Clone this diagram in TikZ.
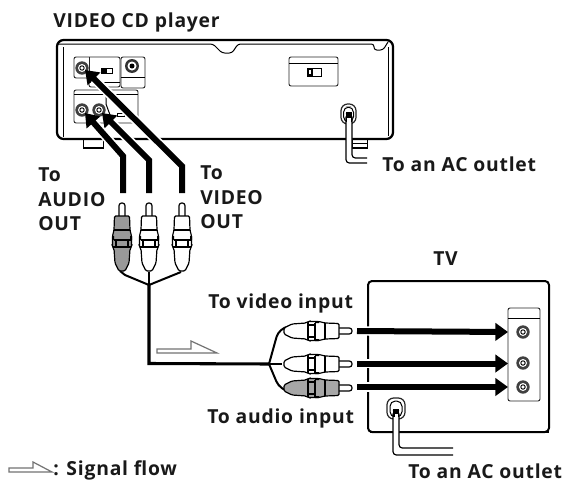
\documentclass[tikz,border=0pt]{standalone}
\usepackage{fontspec}
\setmainfont{Open Sans}
\newfontfamily\lblfont[LetterSpace=4]{Open Sans}
\usetikzlibrary{arrows.meta}
\tikzset{
 x=0.75pt,y=-0.75pt,
 lbl/.style={font=\fontsize{14.5pt}{18.6pt}\lblfont\bfseries,inner sep=0pt,anchor=base west,text=black!90},
 lblm/.style={lbl,align=left,anchor=north west},
 thin line/.style={draw=black,line width=0.75pt},
 panel/.style={draw=black!85,line width=0.7pt,rounded corners=1.5pt,fill=white},
 sig/.style={draw=black,line width=4.5pt,-{Triangle[length=9.5pt,width=13pt]},line join=miter,
   preaction={draw=white,line width=7pt,-,shorten >=9pt}},
 wire/.style={draw=black,line width=1.5pt,line join=round},
 mainwire/.style={draw=black,line width=2.3pt,line join=miter},
 flow/.style={draw=black!55,line width=0.9pt,fill=white,line join=miter},
 pics/jack/.style={code={
  \fill[black!75] (0,0) circle (6.7);
  \fill[white] (0,0) circle (4);
  \draw[black,line width=0.7pt] (0,0) circle (2.2);
 }},
 pics/rca/.style={code={
  \draw[black,line width=0.9pt,fill=white,rounded corners=2pt] (-3,13)--(-3,0)--(3,0)--(3,13);
  \draw[black,line width=0.9pt,fill=#1,rounded corners=1pt]
   (-7.5,13)--(7.5,13)--(8,27)--(9.5,33)--(9.5,44)--(8,46)--(7,60)--(3,68)--(-3,68)--(-7,60)--(-8,46)--(-9.5,44)--(-9.5,33)--(-8,27)--cycle;
  \draw[black,line width=0.8pt] (-8,27)--(8,27) (-8.5,37)--(8.5,37) (-9,44)--(9,44);
  \draw[black,line width=0.8pt] (-6,37)--(-6,44) (6,37)--(6,44);
  \fill[black] (-10,33) rectangle (-8,37) (8,33) rectangle (10,37);
 }},
}
\begin{document}
\begin{tikzpicture}
\useasboundingbox (0,0) rectangle (568,482);
\fill[white] (0,0) rectangle (568,482);
% --- player ---
\draw[black,line width=1.7pt,rounded corners=5pt] (57,139) rectangle (393,40);
\draw[thin line,rounded corners=2pt] (58,44)--(213,44)--(222,53)--(232,53)--(238,44)--(374,44)--(374,50)--(383,50)--(388,42);
\draw[thin line] (63,47)--(63,137) (388,47)--(388,136);
\draw[thin line] (83,139)--(83,148)--(103,148)--(103,139);
\draw[thin line] (352,139)--(352,148)--(367,148)--(367,139);
\draw[thin line] (352,143)--(367,143);
\fill[black] (83,146.5) rectangle (103,148);
\fill[black] (352,146.5) rectangle (367,148);
% panels
\draw[panel] (74,78)--(74,57)--(120,57)--(120,87)--(89,87)--(89,78)--cycle;
\draw[panel,fill=none] (89,57)--(89,78);
\draw[thin line] (89,82)--(120,82);
\draw[panel] (121,57) rectangle (145,88);
\draw[thin line] (121,77)--(145,77);
\draw[panel] (74,90) rectangle (138,123);
\draw[thin line] (74,94)--(138,94);
\draw[thin line] (106,95)--(106,104)--(113,123);
\draw[thin line] (117,113) rectangle (124,116);
\fill[black] (102,68) rectangle (107,73);
\draw[thin line] (101,68) rectangle (112,73);
\fill[black!80] (132,66) circle (7);
\fill[white] (132,66) circle (4.5);
\fill[black] (132,66) circle (2.5);
\pic at (82,68) {jack};
\pic at (82,110) {jack};
\pic at (99,110) {jack};
\coordinate (pv) at (85,70);
\coordinate (pa) at (85,113);
\coordinate (pb) at (102,113);
% switch panel
\draw[panel] (289,57) rectangle (338,86);
\draw[thin line] (289,63)--(338,63);
\draw[thin line] (307,68) rectangle (321,76);
\fill[black] (307,68) rectangle (313,76);
\fill[white] (309,70) rectangle (311,74);
% player mains
\draw[panel,rounded corners=5pt,line width=0.9pt] (341,104) rectangle (356,124);
\draw[thin line,rounded corners=4pt] (343.5,107) rectangle (353.5,122);
\fill[white] (346,139.5) rectangle (352,158);
\draw[black,line width=0.9pt,rounded corners=2.5pt,fill=white] (367,158)--(352,158)--(352,114)--(346,114)--(346,163)--(367,163);
\fill[black] (346,112) rectangle (352,122);
\fill[white] (347,118) rectangle (351,126);
% --- TV ---
\draw[black,line width=1.5pt,rounded corners=3pt] (368,432) rectangle (549,281);
\fill[black] (370,431) rectangle (549,433);
\draw[panel] (508,308) rectangle (540,401);
\draw[thin line] (508,318)--(540,318);
\pic at (523,332) {jack};
\pic at (523,363) {jack};
\pic at (523,387) {jack};
\coordinate (ta) at (508,332);
\coordinate (tb) at (508,363.5);
\coordinate (tc) at (508,387);
\draw[panel,rounded corners=5pt,line width=0.9pt] (387,398) rectangle (405,419);
\draw[thin line,rounded corners=4pt] (390,401) rectangle (402,417);
\fill[white] (393,432) rectangle (399,448);
\draw[black,line width=0.9pt,rounded corners=2.5pt,fill=white] (453,448)--(399,448)--(399,411)--(393,411)--(393,455)--(453,455);
\fill[black] (393,409) rectangle (399,417);
\fill[white] (394.5,414) rectangle (397.5,420);
% --- cable ---
\coordinate (jv) at (149,285);
\coordinate (jh) at (269,364);
\coordinate (a1) at (120,271);
\coordinate (a2) at (149,272);
\coordinate (a3) at (181,272);
\coordinate (b1) at (292,326);
\coordinate (b2) at (282,364);
\coordinate (b3) at (292,392);
\draw[wire] (a1)--(125,275)--(jv)--(a3);
\draw[wire] (a2)--(jv);
\draw[mainwire] (jv)--(149,363.5)--(jh);
\draw[wire,rounded corners=7pt] (jh)--(279,328)--(b1);
\draw[wire,rounded corners=7pt] (jh)--(280,390)--(b3);
\draw[wire] (jh)--(b2);
% plugs
\pic at (122,203) {rca=black!40};
\pic at (149,203) {rca=white};
\pic at (182,203) {rca=white};
\pic[rotate=-90] at (352,331) {rca=white};
\pic[rotate=-90] at (352,364) {rca=white};
\pic[rotate=-90] at (352,388) {rca=black!35};
% --- signal leads ---
\coordinate (s1) at (123,193);
\coordinate (s2) at (149,193);
\coordinate (s3) at (182,193);
\draw[sig] (s3)--(182,166)--(pv);
\draw[sig] (s2)--(149,160)--(pb);
\draw[sig] (s1)--(123,156)--(pa);
\coordinate (h1) at (357,331);
\coordinate (h2) at (357,363.5);
\coordinate (h3) at (357,387);
\draw[sig] (h1)--(ta);
\draw[sig] (h2)--(tb);
\draw[sig] (h3)--(tc);
% flow arrows
\draw[flow] (157,349)--(191,349)--(191,341)--(217,353)--(157,353)--cycle;
\draw[flow] (9,468)--(33,468)--(33,462)--(52,472)--(9,472)--cycle;
% --- labels ---
\node[lbl] (n1) at (53,27) {VIDEO CD player};
\node[lblm] (n2) at (38,167.3) {To\\AUDIO\\OUT};
\node[lblm] (n3) at (200,165.3) {To\\VIDEO\\OUT};
\node[lbl] (n4) at (382,171) {To an AC outlet};
\node[lbl] (n5) at (433,265) {TV};
\node[lbl] (n6) at (208,308) {To video input};
\node[lbl] (n7) at (207,423) {To audio input};
\node[lbl] (n8) at (408,478) {To an AC outlet};
\node[lbl] (n9) at (53,475) {: Signal flow};
\end{tikzpicture}
\end{document}
